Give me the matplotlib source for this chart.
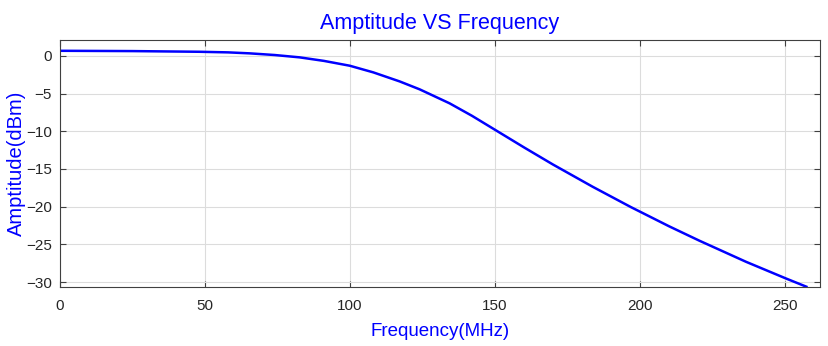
import matplotlib.pyplot as plt
import numpy as np

plt.rcParams['font.family'] = ['Liberation Sans', 'DejaVu Sans']

# frequency (MHz) and amplitude (dBm)
freq = [0, 25, 48, 58, 65.4, 74, 82.6, 91, 99.9, 108, 117.1, 124, 134.3, 142,
        150.1, 160, 169.9, 183.6, 196.8, 210, 220.4, 236.5, 250.2, 257.3]
amp = [0.66, 0.62, 0.53, 0.45, 0.32, 0.1, -0.21, -0.68, -1.32, -2.2, -3.4,
       -4.45, -6.3, -7.95, -9.84, -12.15, -14.4, -17.35, -20.05, -22.6,
       -24.5, -27.3, -29.5, -30.6]

fig = plt.figure(figsize=(8.29, 3.46), dpi=100)
ax = fig.add_axes([60/829, 1 - 286.7/346, 760/829, 246.4/346])

ax.plot(freq, amp, color='#0000ff', linewidth=1.8)

ax.set_xlim(0, 262)
ax.set_ylim(-30.6, 2.05)
ax.set_xticks([0, 50, 100, 150, 200, 250])
ax.set_yticks([0, -5, -10, -15, -20, -25, -30])

ax.grid(True, color='#dcdcdc', linewidth=0.8)
ax.set_axisbelow(True)
ax.tick_params(direction='in', top=True, right=True, length=4,
               color='#404040', labelcolor='#262626', labelsize=11)
ax.tick_params(axis='x', pad=9)
ax.tick_params(axis='y', pad=6)
for s in ax.spines.values():
    s.set_color('#404040')
    s.set_linewidth(0.8)

ax.set_title('Amptitude VS Frequency', color='#0000ff', fontsize=15.5, pad=8)
ax.set_xlabel('Frequency(MHz)', color='#0000ff', fontsize=13.5, labelpad=7)
ax.set_ylabel('Amptitude(dBm)', color='#0000ff', fontsize=14.5, labelpad=0)

fig.savefig('out.png', dpi=100)
